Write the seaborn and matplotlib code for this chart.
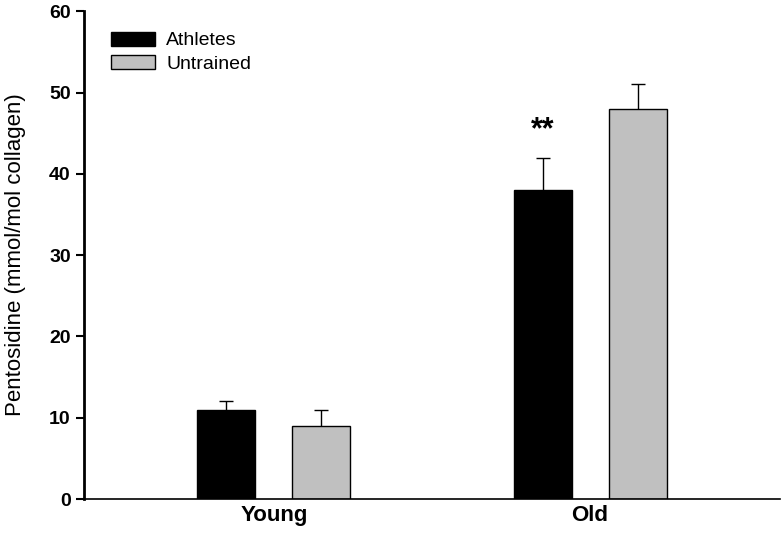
import matplotlib
matplotlib.use("Agg")
import matplotlib.pyplot as plt
import seaborn as sns
import pandas as pd

# values
age_groups = ["Young", "Young", "Old", "Old"]
training = ["Athletes", "Untrained", "Athletes", "Untrained"]
pentosidine = [11, 9, 38, 48]
sem = [1, 2, 4, 3]

df = pd.DataFrame({"age": age_groups, "group": training,
                   "pentosidine": pentosidine, "sem": sem})

sns.set_style("ticks")
plt.rcParams["font.family"] = ["Liberation Sans", "DejaVu Sans"]
plt.rcParams["text.color"] = "black"
plt.rcParams["axes.labelcolor"] = "black"
plt.rcParams["xtick.color"] = "black"
plt.rcParams["ytick.color"] = "black"
plt.rcParams["axes.edgecolor"] = "black"

fig = plt.figure(figsize=(7.81, 5.34), dpi=100)
ax = fig.add_axes([0.1076, 0.0655, 0.891, 0.9135])

palette = {"Athletes": "#000000", "Untrained": "#c0c0c0"}
sns.barplot(data=df, x="age", y="pentosidine", hue="group", order=["Young", "Old"],
            hue_order=["Athletes", "Untrained"], palette=palette, width=0.6, gap=0.39,
            errorbar=None, edgecolor="#000000", linewidth=1.0, saturation=1, ax=ax)

# error bars drawn behind the bars so only the upper half shows
for bars, grp in zip(ax.containers, ["Athletes", "Untrained"]):
    sub = df[df["group"] == grp].set_index("age").loc[["Young", "Old"]]
    xs = [b.get_x() + b.get_width() / 2 for b in bars]
    ax.errorbar(xs, sub["pentosidine"], yerr=sub["sem"], fmt="none", ecolor="black",
                elinewidth=1.0, capsize=5, capthick=1.0, zorder=0.5)

# significance marker over old athletes
old_ath = ax.containers[0][1]
ax.text(old_ath.get_x() + old_ath.get_width() / 2, 45.4, "**", ha="center", va="center",
        fontsize=22, fontweight="bold")

ax.set_xlim(-0.6, 1.6)
ax.set_ylim(0, 60)
ax.set_yticks([0, 10, 20, 30, 40, 50, 60])
ax.set_xlabel("")
ax.set_ylabel("Pentosidine (mmol/mol collagen)", fontsize=16, labelpad=17)
ax.tick_params(axis="y", labelsize=14, width=1.5, length=6, direction="out")
ax.tick_params(axis="x", labelsize=16, length=0, pad=4)
for lab in ax.get_xticklabels() + ax.get_yticklabels():
    lab.set_fontweight("bold")

sns.despine(ax=ax)
ax.spines["left"].set_linewidth(2)
ax.spines["bottom"].set_linewidth(1.2)

leg = ax.legend(loc="upper left", bbox_to_anchor=(0.039, 0.958), frameon=False,
                fontsize=14, handlelength=2.27, handleheight=0.72, labelspacing=0.3,
                handletextpad=0.55, borderpad=0, borderaxespad=0)

fig.savefig("out.png", dpi=100)
